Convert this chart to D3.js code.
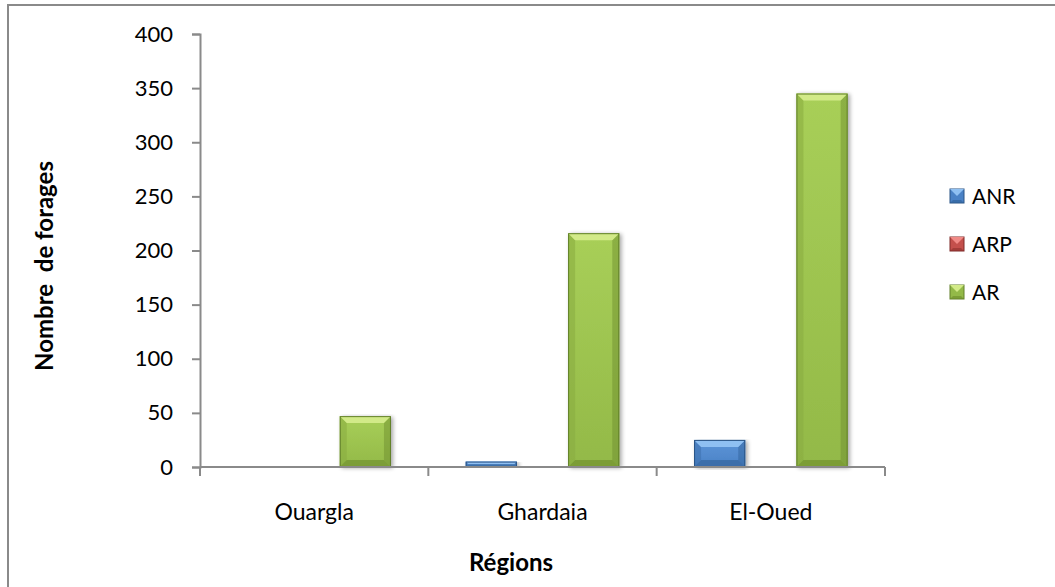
<!DOCTYPE html>
<html>
<head>
<meta charset="utf-8">
<script src="https://cdn.jsdelivr.net/npm/d3@7"></script>
<style>
  html, body { margin: 0; padding: 0; background: #fff; }
  svg { display: block; font-family: Lato, "Open Sans", sans-serif; }
</style>
</head>
<body>
<svg id="chart" width="1055" height="587"></svg>
<script>
// Drilling counts per region, split by class
const regions = ["Ouargla", "Ghardaia", "El-Oued"];
const seriesNames = ["ANR", "ARP", "AR"];
const valuesANR = [0, 5, 25];
const valuesARP = [0, 0, 0];
const valuesAR = [47, 216, 345];
const yTicks = [0, 50, 100, 150, 200, 250, 300, 350, 400];

const seriesValues = { ANR: valuesANR, ARP: valuesARP, AR: valuesAR };

// Bevelled bar palette: base, light (top bevel), dark (bottom bevel), edge
const palette = {
  ANR: { base: "#4a82c6", top: "#8fc0f2", bottom: "#2f5f96", side: "#3d70ad", edge: "#2b5486", light: "#5d95d8" },
  ARP: { base: "#c4504c", top: "#f08a86", bottom: "#8e302d", side: "#a9403d", edge: "#7e2a28", light: "#d6615c" },
  AR:  { base: "#93b948", top: "#d2ea88", bottom: "#6a8a2c", side: "#88ab40", edge: "#62802a", light: "#a8cf58" }
};

const svg = d3.select("#chart");
const defs = svg.append("defs");

const plot = { left: 200, right: 885, top: 34, bottom: 467 };

const x0 = d3.scaleBand().domain(regions).range([plot.left, plot.right]).paddingInner(0).paddingOuter(0);
const x1 = d3.scaleBand().domain(seriesNames).range([0, x0.bandwidth()]).paddingInner(0).paddingOuter(0.73);
const y = d3.scaleLinear().domain([0, 400]).range([plot.bottom, plot.top]);

// Vertical body gradients and soft shadow
seriesNames.forEach(s => {
  const c = palette[s];
  const g = defs.append("linearGradient").attr("id", "grad-" + s)
    .attr("x1", 0).attr("y1", 0).attr("x2", 0).attr("y2", 1);
  g.append("stop").attr("offset", "0%").attr("stop-color", c.light);
  g.append("stop").attr("offset", "100%").attr("stop-color", c.base);
});
const shadow = defs.append("filter").attr("id", "shadow")
  .attr("x", "-20%").attr("y", "-5%").attr("width", "150%").attr("height", "115%");
shadow.append("feGaussianBlur").attr("in", "SourceAlpha").attr("stdDeviation", 2);
shadow.append("feOffset").attr("dx", 2).attr("dy", 1).attr("result", "b");
shadow.append("feComponentTransfer").append("feFuncA").attr("type", "linear").attr("slope", 0.35);
const merge = shadow.append("feMerge");
merge.append("feMergeNode");
merge.append("feMergeNode").attr("in", "SourceGraphic");

// Outer frame
svg.append("rect")
  .attr("x", 8).attr("y", 5)
  .attr("width", 1100).attr("height", 640)
  .attr("fill", "none").attr("stroke", "#8a8a8a").attr("stroke-width", 2);

// Bars
const rows = [];
regions.forEach((r, i) => {
  seriesNames.forEach(s => rows.push({ region: r, series: s, value: seriesValues[s][i] }));
});

const barG = svg.append("g");
rows.filter(d => d.value > 0).forEach(d => {
  const c = palette[d.series];
  const xl = x0(d.region) + x1(d.series);
  const w = x1.bandwidth();
  const xr = xl + w;
  const yt = y(d.value);
  const yb = y(0);
  const h = yb - yt;
  const bv = Math.min(7, h / 2, w / 2);
  const g = barG.append("g").attr("filter", "url(#shadow)");
  g.append("rect").attr("x", xl).attr("y", yt).attr("width", w).attr("height", h)
    .attr("fill", "url(#grad-" + d.series + ")");
  // left and right bevels
  g.append("polygon").attr("points", [[xl, yt], [xl + bv, yt + bv], [xl + bv, yb - bv], [xl, yb]].join(" "))
    .attr("fill", c.side).attr("opacity", 0.55);
  g.append("polygon").attr("points", [[xr, yt], [xr - bv, yt + bv], [xr - bv, yb - bv], [xr, yb]].join(" "))
    .attr("fill", c.bottom).attr("opacity", 0.45);
  // top bevel (highlight) and bottom bevel (shade)
  g.append("polygon").attr("points", [[xl, yt], [xr, yt], [xr - bv, yt + bv], [xl + bv, yt + bv]].join(" "))
    .attr("fill", c.top);
  g.append("polygon").attr("points", [[xl, yb], [xr, yb], [xr - bv, yb - bv], [xl + bv, yb - bv]].join(" "))
    .attr("fill", c.bottom).attr("opacity", 0.6);
  g.append("rect").attr("x", xl + 0.5).attr("y", yt + 0.5).attr("width", w - 1).attr("height", h - 1)
    .attr("fill", "none").attr("stroke", c.edge).attr("stroke-width", 1);
});

// Y axis
const yAxis = svg.append("g")
  .attr("transform", `translate(${plot.left},0)`)
  .call(d3.axisLeft(y).tickValues(yTicks).tickSize(8).tickPadding(19));
yAxis.select(".domain").attr("stroke", "#8a8a8a").attr("stroke-width", 2);
yAxis.selectAll(".tick line").attr("stroke", "#8a8a8a").attr("stroke-width", 2);
yAxis.selectAll(".tick text").attr("font-size", 22).attr("fill", "#000")
  .attr("font-family", "Lato, sans-serif");

// X axis with ticks at category boundaries
const xAxisG = svg.append("g").attr("transform", `translate(0,${plot.bottom})`);
xAxisG.append("line").attr("x1", plot.left).attr("x2", plot.right)
  .attr("stroke", "#8a8a8a").attr("stroke-width", 2);
const boundaries = regions.map(r => x0(r)).concat([x0(regions[regions.length - 1]) + x0.bandwidth()]);
xAxisG.selectAll("line.tk").data(boundaries).enter().append("line").attr("class", "tk")
  .attr("x1", d => d).attr("x2", d => d).attr("y1", 0).attr("y2", 9)
  .attr("stroke", "#8a8a8a").attr("stroke-width", 2);
xAxisG.selectAll("text.cat").data(regions).enter().append("text").attr("class", "cat")
  .attr("x", d => x0(d) + x0.bandwidth() / 2).attr("y", 53)
  .attr("text-anchor", "middle").attr("font-size", 23).attr("fill", "#000")
  .text(d => d);

// Axis titles
svg.append("text")
  .attr("transform", "translate(53,266) rotate(-90)")
  .attr("text-anchor", "middle").attr("font-size", 24).attr("font-weight", "bold")
  .attr("xml:space", "preserve").style("white-space", "pre")
  .text("Nombre  de forages");
svg.append("text")
  .attr("x", 511).attr("y", 571)
  .attr("text-anchor", "middle").attr("font-size", 24).attr("font-weight", "bold")
  .text("Régions");

// Legend
const legend = svg.append("g").attr("transform", "translate(950,196)");
seriesNames.forEach((s, i) => {
  const c = palette[s];
  const g = legend.append("g").attr("transform", `translate(0,${i * 48})`);
  const sz = 14;
  g.append("rect").attr("x", 0).attr("y", -sz / 2).attr("width", sz).attr("height", sz).attr("fill", c.base)
    .attr("stroke", c.edge).attr("stroke-width", 1);
  g.append("polygon").attr("points", [[0, -sz / 2], [sz, -sz / 2], [sz / 2, 0]].join(" ")).attr("fill", c.top);
  g.append("polygon").attr("points", [[0, sz / 2], [sz, sz / 2], [sz - 3, sz / 2 - 3], [3, sz / 2 - 3]].join(" ")).attr("fill", c.bottom).attr("opacity", 0.6);
  g.append("text").attr("x", 22).attr("y", 0).attr("dy", "0.36em")
    .attr("font-size", 21).attr("fill", "#000").text(s);
});
</script>
</body>
</html>
